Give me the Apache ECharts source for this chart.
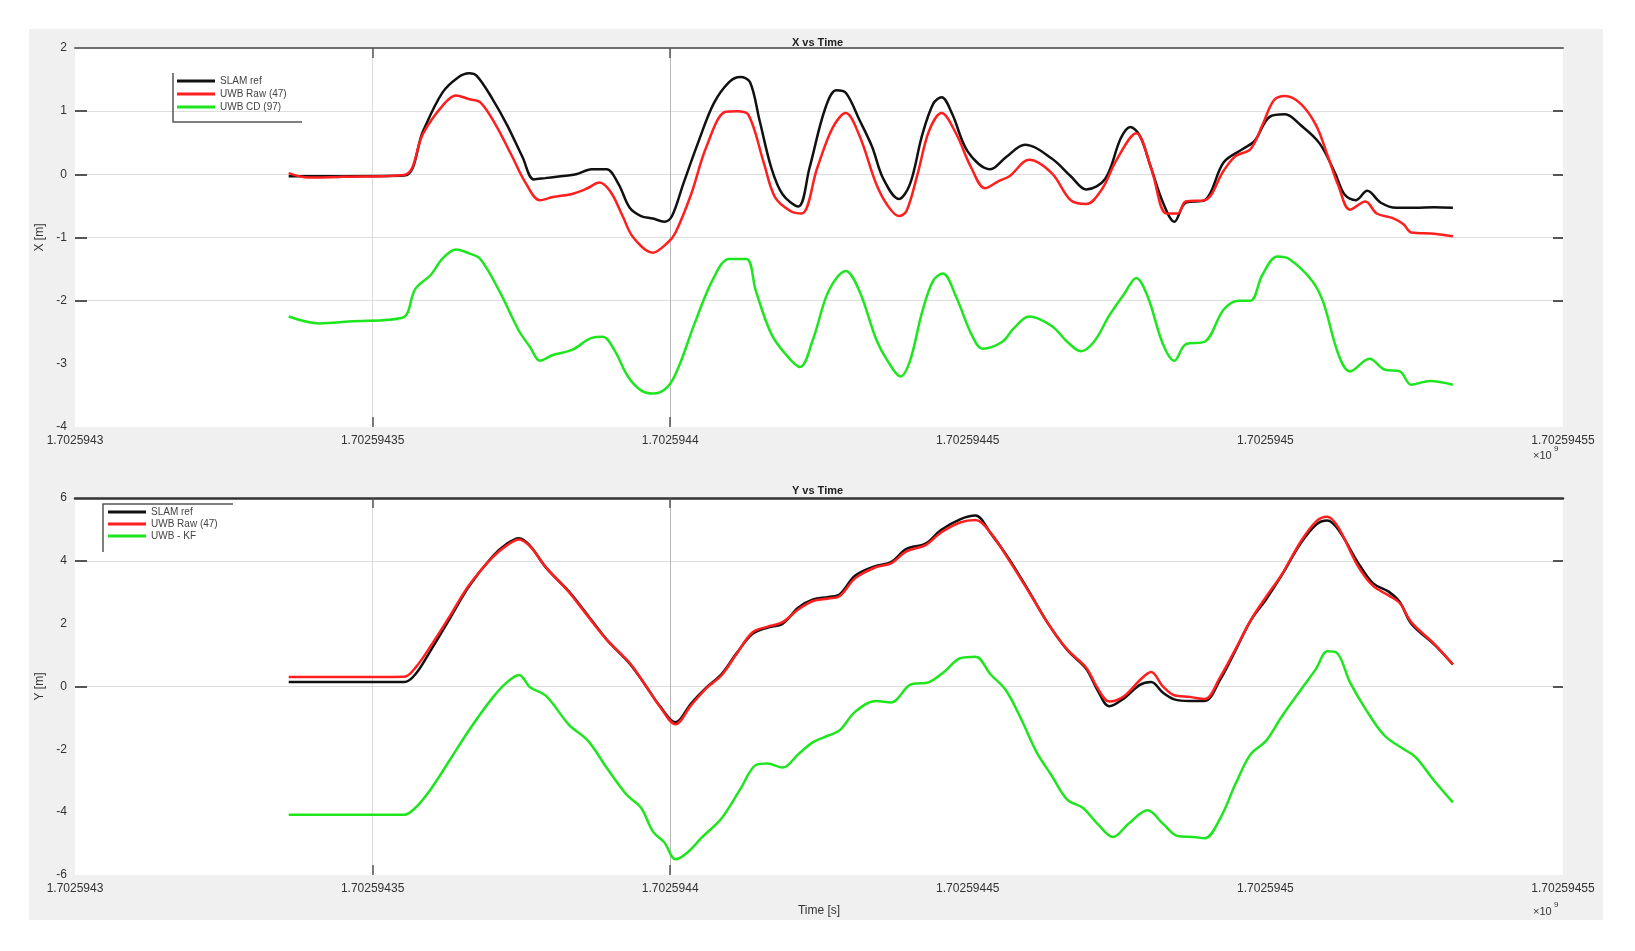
<!DOCTYPE html>
<html>
<head>
<meta charset="utf-8">
<script src="https://cdn.jsdelivr.net/npm/echarts@6/dist/echarts.min.js"></script>
<style>
  html, body { margin: 0; padding: 0; background: #fff; }
  #chart { width: 1635px; height: 951px; }
</style>
</head>
<body>
<div id="chart"></div>
<script>
// times below are seconds after TBASE; x axis runs 300..550 s, ticks every 50 s shown in units of 1e9
const TBASE = 1702594000;
const X_MIN = TBASE + 300;
const X_MAX = TBASE + 550;
const xTickLabels = ['1.7025943', '1.70259435', '1.7025944', '1.70259445', '1.7025945', '1.70259455'];
const legendTop = ['SLAM ref', 'UWB Raw (47)', 'UWB CD (97)'];
const legendBottom = ['SLAM ref', 'UWB Raw (47)', 'UWB - KF'];

// ---- X vs Time ----
const tSlamX = [335.9, 345, 355.3, 358.5, 361.7, 364.3, 366.2, 367.5, 370.1, 372.6, 375.2, 377.1, 379, 381.6, 384.2, 386.8, 389.3, 391.3, 393.2, 395.1, 397.1, 399, 400.3, 402.2, 404.8, 407.3, 409.9, 411.8, 413.4, 415.0, 417, 418.9, 421.5, 423.4, 426, 427.9, 429.5, 431.8, 433.9, 435.8, 438.4, 440.3, 442.3, 444.2, 445.6, 447.4, 450, 453.8, 456.4, 459.6, 464.1, 467.3, 469.9, 473.1, 475.7, 477.3, 478.9, 480.8, 482.8, 484.7, 486.6, 489.8, 493.0, 496.2, 498.2, 500.7, 503.3, 505.9, 509.1, 511.7, 513.3, 515.2, 517.1, 519.4, 522, 525.2, 528.4, 531.5];
const slamX = [-0.03, -0.03, -0.02, 0.69, 1.29, 1.53, 1.6, 1.56, 1.2, 0.78, 0.27, -0.08, -0.06, -0.03, 0, 0.08, 0.08, -0.15, -0.53, -0.66, -0.70, -0.75, -0.66, -0.15, 0.53, 1.12, 1.46, 1.54, 1.46, 0.86, 0.1, -0.32, -0.51, 0.1, 1.03, 1.33, 1.29, 0.86, 0.44, -0.07, -0.39, -0.15, 0.61, 1.12, 1.22, 0.95, 0.36, 0.08, 0.27, 0.47, 0.25, -0.03, -0.24, -0.07, 0.57, 0.75, 0.61, 0.1, -0.45, -0.75, -0.45, -0.41, 0.19, 0.40, 0.53, 0.91, 0.95, 0.78, 0.49, 0.02, -0.32, -0.41, -0.26, -0.45, -0.53, -0.53, -0.52, -0.53];

const tRawX = [335.9, 339.2, 345, 355.3, 358.5, 361.7, 364, 366.2, 368.1, 370.7, 373.3, 375.8, 378.1, 380.3, 383.5, 386.1, 388.1, 390, 392, 393.8, 397.1, 399.6, 400.9, 403.5, 406.1, 409.3, 411.2, 413.1, 415.7, 417.6, 420.2, 422.1, 424.7, 427.3, 429.5, 431.8, 434.6, 436.5, 438.4, 439.7, 441.6, 443.5, 445.6, 448, 450.6, 452.9, 455.1, 457, 460.3, 464.1, 467.3, 469.9, 472.5, 475, 478.3, 480.8, 483.4, 485.3, 486.6, 489.8, 493, 495, 497.5, 499.5, 501.4, 503.3, 505.9, 508.5, 510.4, 512.3, 514.2, 516.8, 518.7, 521.3, 523.2, 524.5, 528.4, 531.5];
const rawX = [0.02, -0.05, -0.04, -0.01, 0.65, 1.08, 1.25, 1.19, 1.14, 0.78, 0.31, -0.15, -0.41, -0.36, -0.31, -0.22, -0.13, -0.28, -0.66, -1.0, -1.24, -1.08, -0.92, -0.32, 0.44, 0.99, 1.0, 0.95, 0.19, -0.36, -0.58, -0.62, 0.1, 0.74, 0.97, 0.61, -0.15, -0.49, -0.66, -0.58, 0.02, 0.69, 0.97, 0.65, 0.1, -0.22, -0.11, -0.03, 0.23, 0.02, -0.41, -0.47, -0.24, 0.23, 0.65, 0.1, -0.62, -0.62, -0.43, -0.41, 0.06, 0.29, 0.40, 0.78, 1.17, 1.24, 1.12, 0.78, 0.31, -0.19, -0.56, -0.43, -0.62, -0.69, -0.79, -0.92, -0.94, -0.98];

const tCdX = [335.9, 341.1, 346, 355, 357.2, 359.8, 361.7, 364, 366.2, 368.1, 371.3, 374.6, 376.5, 378.1, 380.3, 383.5, 386.8, 388.7, 390.6, 392.9, 395.1, 397.1, 399.6, 401.5, 404.1, 407.3, 409.9, 412.8, 414.4, 417, 419.5, 421.8, 424, 426.6, 429.5, 431.8, 434.6, 436.5, 438.7, 440.3, 442.3, 444.2, 445.8, 448, 450.6, 452.5, 455.8, 457.7, 460.3, 464.1, 466.7, 469, 471.2, 473.8, 476.3, 478.3, 480.2, 482.8, 484.7, 486.6, 489.8, 493, 495.6, 497.5, 499.5, 502, 504, 507.8, 509.7, 512.3, 514.2, 517.5, 520, 522.6, 524.5, 527.7, 531.5];
const cdX = [-2.25, -2.36, -2.33, -2.27, -1.81, -1.59, -1.34, -1.19, -1.25, -1.34, -1.85, -2.48, -2.74, -2.95, -2.86, -2.78, -2.59, -2.57, -2.78, -3.2, -3.42, -3.47, -3.36, -3.03, -2.36, -1.64, -1.34, -1.34, -1.85, -2.53, -2.86, -3.05, -2.61, -1.85, -1.53, -1.85, -2.61, -2.95, -3.2, -2.95, -2.19, -1.68, -1.57, -1.93, -2.53, -2.76, -2.65, -2.44, -2.25, -2.4, -2.65, -2.8, -2.65, -2.23, -1.89, -1.64, -1.93, -2.69, -2.95, -2.69, -2.65, -2.14, -2.0, -2.0, -1.59, -1.3, -1.34, -1.68, -2.02, -2.86, -3.12, -2.92, -3.09, -3.12, -3.33, -3.27, -3.33];

// ---- Y vs Time ----
const tY = [335.9, 345, 355.3, 357.2, 359.8, 363, 366.2, 370.1, 372.6, 374.6, 376.5, 379.1, 383, 385.5, 389.3, 393.2, 395.8, 398.3, 400.9, 403.5, 406.1, 408.6, 411.2, 413.8, 416.3, 418.9, 421.5, 424, 426.6, 428.5, 431.1, 434.6, 437.1, 439.7, 442.9, 445.5, 448.7, 451.3, 453.8, 457.0, 460.3, 463.5, 466.7, 469.9, 471.8, 473.8, 476.3, 478.9, 480.8, 482.8, 484.7, 487.3, 489.8, 492.4, 495, 497.5, 500.1, 502.7, 505.9, 508.5, 510.4, 512.3, 515.5, 518.1, 520.7, 522.6, 524.5, 528.4, 531.5];
const slamY = [0.14, 0.14, 0.14, 0.39, 1.16, 2.17, 3.19, 4.13, 4.55, 4.72, 4.47, 3.79, 3.02, 2.43, 1.5, 0.73, 0.05, -0.63, -1.14, -0.54, -0.03, 0.39, 1.07, 1.67, 1.87, 2.0, 2.51, 2.77, 2.85, 2.94, 3.53, 3.84, 3.96, 4.38, 4.55, 4.98, 5.32, 5.44, 4.89, 4.04, 3.02, 2.0, 1.16, 0.56, -0.12, -0.63, -0.37, 0.05, 0.14, -0.2, -0.41, -0.46, -0.46, 0.22, 1.16, 2.09, 2.77, 3.53, 4.55, 5.15, 5.28, 4.98, 3.96, 3.28, 3.02, 2.68, 2.0, 1.33, 0.7];
const rawY = [0.3, 0.3, 0.31, 0.6, 1.3, 2.25, 3.22, 4.1, 4.5, 4.68, 4.45, 3.8, 3.0, 2.4, 1.5, 0.75, 0.05, -0.65, -1.2, -0.6, -0.05, 0.35, 1.05, 1.72, 1.9, 2.05, 2.45, 2.72, 2.8, 2.88, 3.45, 3.8, 3.92, 4.3, 4.5, 4.9, 5.22, 5.3, 4.9, 4.0, 3.0, 2.0, 1.18, 0.6, -0.05, -0.48, -0.3, 0.2, 0.46, 0.0, -0.28, -0.33, -0.4, 0.3, 1.2, 2.1, 2.85, 3.55, 4.6, 5.25, 5.4, 5.05, 3.85, 3.2, 2.9, 2.65, 2.05, 1.35, 0.7];

const tKfY = [335.9, 345, 355.3, 357.2, 359.8, 363, 366.2, 370.1, 372.6, 374.6, 376.5, 379.1, 383, 386.2, 389.3, 392.6, 395.1, 397.1, 399, 400.9, 402.8, 405.4, 408.6, 411.8, 414.4, 416.3, 418.9, 421.5, 424, 426.6, 428.5, 431.1, 434.6, 437.1, 440.3, 443.5, 446.1, 448.7, 451.3, 453.8, 456.4, 459, 461.5, 464.1, 466.7, 469.3, 471.8, 474.4, 477, 480.2, 482.8, 485.3, 487.9, 489.8, 492.4, 495, 497.5, 500.1, 502.7, 505.9, 508.5, 510.4, 512, 514.2, 516.8, 520, 523.2, 525.2, 528.4, 531.5];
const kfY = [-4.08, -4.08, -4.08, -3.86, -3.26, -2.33, -1.39, -0.37, 0.14, 0.37, -0.03, -0.29, -1.22, -1.73, -2.58, -3.43, -3.86, -4.62, -4.96, -5.5, -5.3, -4.79, -4.2, -3.26, -2.5, -2.45, -2.58, -2.16, -1.77, -1.56, -1.39, -0.8, -0.46, -0.51, 0.05, 0.14, 0.48, 0.9, 0.95, 0.39, -0.12, -1.05, -2.07, -2.84, -3.6, -3.86, -4.37, -4.79, -4.37, -3.94, -4.37, -4.76, -4.79, -4.83, -4.2, -3.09, -2.16, -1.73, -0.97, -0.12, 0.56, 1.12, 1.07, 0.14, -0.71, -1.56, -1.99, -2.24, -3.01, -3.69];

// visible tick marks (the figure only shows some of them)
const xTickMarks = [X_MIN + 50, X_MIN + 100];
const yTickMarksTop = [1, 0, -1, -2];
const yTickMarksBottom = [4, 0];

function pairs(ts, vs) {
  return ts.map((t, i) => [TBASE + t, vs[i]]);
}

const FONT = "'Liberation Sans', Arial, sans-serif";
const GRID_COLOR = '#dedede';
const TICK_COLOR = '#555';
const NONE = 'rgba(0,0,0,0)';
// vertical grid only at 1.70259435 and 1.7025944, as in the figure (boundary line is skipped)
const X_GRID_COLORS = ['#dcdcdc', '#b8b8b8', NONE, NONE, NONE];

function xAxes(gi, showName, borderColor, borderWidth) {
  return [{
    type: 'value', gridIndex: gi, min: X_MIN, max: X_MAX, interval: 50,
    axisLine: { show: false, onZero: false },
    axisTick: { inside: true, length: 10, customValues: xTickMarks, lineStyle: { color: TICK_COLOR, width: 1.5 } },
    axisLabel: {
      fontFamily: FONT, fontSize: 12, color: '#333', margin: 8,
      formatter: v => xTickLabels[Math.round((v - X_MIN) / 50)]
    },
    splitLine: { show: true, lineStyle: { color: X_GRID_COLORS, width: 1 } },
    name: showName ? 'Time [s]' : '', nameLocation: 'middle', nameGap: 30,
    nameTextStyle: { fontFamily: FONT, fontSize: 12, color: '#333' }
  }, {
    type: 'value', gridIndex: gi, position: 'top', min: X_MIN, max: X_MAX, interval: 50,
    axisLine: { show: true, onZero: false, lineStyle: { color: borderColor, width: borderWidth } },
    axisTick: { inside: true, length: 10, customValues: xTickMarks, lineStyle: { color: TICK_COLOR, width: 1.5 } },
    axisLabel: { show: false },
    splitLine: { show: false }
  }];
}

function yAxes(gi, min, max, interval, name, marks) {
  return [{
    type: 'value', gridIndex: gi, min: min, max: max, interval: interval,
    axisLine: { show: false, onZero: false },
    axisTick: { inside: true, length: 12, customValues: marks, lineStyle: { color: TICK_COLOR, width: 2 } },
    axisLabel: { fontFamily: FONT, fontSize: 12, color: '#333', margin: 8 },
    splitLine: { show: true, lineStyle: { color: GRID_COLOR, width: 1 } },
    name: name, nameLocation: 'middle', nameGap: 28,
    nameTextStyle: { fontFamily: FONT, fontSize: 12, color: '#333' }
  }, {
    type: 'value', gridIndex: gi, position: 'right', min: min, max: max, interval: interval,
    axisLine: { show: false, onZero: false },
    axisTick: { inside: true, length: 10, customValues: marks, lineStyle: { color: TICK_COLOR, width: 2 } },
    axisLabel: { show: false },
    splitLine: { show: false }
  }];
}

function line(name, data, color, xi, yi, z) {
  return {
    name: name, type: 'line', xAxisIndex: xi, yAxisIndex: yi,
    data: data, showSymbol: false, smooth: 0.35, z: z,
    lineStyle: { color: color, width: 2.5 }, itemStyle: { color: color },
    animation: false
  };
}

const BLACK = '#111111';
const RED = '#ff1f1f';
const GREEN = '#1ee61e';

const chart = echarts.init(document.getElementById('chart'));
chart.setOption({
  backgroundColor: '#ffffff',
  animation: false,
  title: [
    { text: 'X vs Time', left: 'center', top: 32, textStyle: { fontFamily: FONT, fontSize: 11, fontWeight: 'bold', color: '#222' } },
    { text: 'Y vs Time', left: 'center', top: 480, textStyle: { fontFamily: FONT, fontSize: 11, fontWeight: 'bold', color: '#222' } }
  ],
  grid: [
    { left: 75, right: 72, top: 48, height: 379, show: true, backgroundColor: '#ffffff', borderWidth: 0 },
    { left: 75, right: 72, top: 498, height: 377, show: true, backgroundColor: '#ffffff', borderWidth: 0 }
  ],
  xAxis: [].concat(xAxes(0, false, '#6e6e6e', 2), xAxes(1, true, '#333', 2.5)),
  yAxis: [].concat(yAxes(0, -4, 2, 1, 'X [m]', yTickMarksTop), yAxes(1, -6, 6, 2, 'Y [m]', yTickMarksBottom)),
  legend: [
    {
      data: legendTop, orient: 'vertical', left: 177, top: 76, padding: 0, itemGap: 3,
      itemWidth: 38, itemHeight: 3, icon: 'rect',
      textStyle: { fontFamily: FONT, fontSize: 10, color: '#444' }, selectedMode: false
    },
    {
      data: legendBottom, orient: 'vertical', left: 108, top: 507, padding: 0, itemGap: 2,
      itemWidth: 38, itemHeight: 3, icon: 'rect',
      textStyle: { fontFamily: FONT, fontSize: 10, color: '#444' }, selectedMode: false
    }
  ],
  graphic: [
    { type: 'rect', z: -10, shape: { x: 29, y: 29, width: 1574, height: 891 }, style: { fill: '#f0f0f0' } },
    // legend frames (partial, as in the figure)
    { type: 'polyline', z: 10, shape: { points: [[173, 73], [173, 122], [302, 122]] }, style: { stroke: '#555', lineWidth: 1.5, fill: null } },
    { type: 'polyline', z: 10, shape: { points: [[103, 552], [103, 504], [233, 504]] }, style: { stroke: '#555', lineWidth: 1.5, fill: null } },
    { type: 'text', z: 10, left: 1533, top: 450, style: { text: '×10', fontFamily: FONT, fontSize: 11, fill: '#333' } },
    { type: 'text', z: 10, left: 1554, top: 445, style: { text: '9', fontFamily: FONT, fontSize: 8, fill: '#333' } },
    { type: 'text', z: 10, left: 1533, top: 906, style: { text: '×10', fontFamily: FONT, fontSize: 11, fill: '#333' } },
    { type: 'text', z: 10, left: 1554, top: 901, style: { text: '9', fontFamily: FONT, fontSize: 8, fill: '#333' } }
  ],
  series: [
    line(legendTop[0], pairs(tSlamX, slamX), BLACK, 0, 0, 3),
    line(legendTop[1], pairs(tRawX, rawX), RED, 0, 0, 4),
    line(legendTop[2], pairs(tCdX, cdX), GREEN, 0, 0, 5),
    line(legendBottom[0], pairs(tY, slamY), BLACK, 2, 2, 3),
    line(legendBottom[1], pairs(tY, rawY), RED, 2, 2, 4),
    line(legendBottom[2], pairs(tKfY, kfY), GREEN, 2, 2, 5)
  ]
});
</script>
</body>
</html>
